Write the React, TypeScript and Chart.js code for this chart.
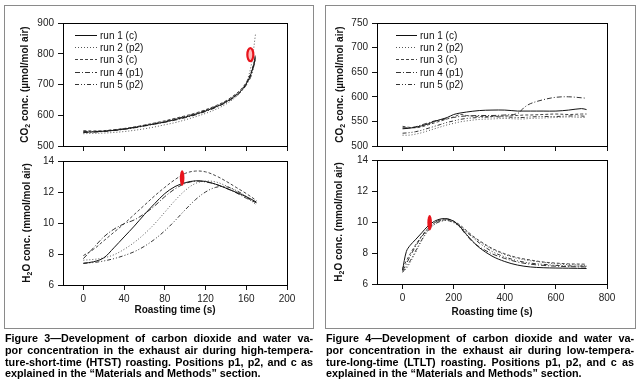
import React, { useEffect, useRef } from 'react';
import { Chart, registerables } from 'chart.js';

Chart.register(...registerables);

const FONT = '"Liberation Sans", Arial, Helvetica, sans-serif';

// ---------- data ----------
const RUN_LABELS = ['run 1 (c)', 'run 2 (p2)', 'run 3 (c)', 'run 4 (p1)', 'run 5 (p2)'];
const X_TITLE = 'Roasting time (s)';
const CO2_TITLE = ['CO', '2', ' conc. (µmol/mol air)'];
const H2O_TITLE = ['H', '2', 'O conc. (mmol/mol air)'];

// Figure 3 (HTST) – CO2
const HTST_CO2_T = [0, 10, 20, 30, 40, 50, 60, 70, 80, 90, 100, 110, 120, 130, 140, 150, 155, 160, 165, 169];
const HTST_CO2_RUN1 = [545, 546, 548, 551, 555, 560, 566, 572, 578, 586, 594, 603, 614, 627, 643, 665, 680, 702, 738, 785];
const HTST_CO2_RUN2 = [540, 541, 542, 544, 547, 551, 556, 562, 569, 576, 585, 595, 606, 619, 636, 660, 677, 705, 765, 862];
const HTST_CO2_RUN3 = [550, 549, 550, 553, 557, 562, 568, 575, 582, 590, 598, 607, 618, 631, 647, 670, 685, 707, 742, 790];
const HTST_CO2_RUN4 = [544, 545, 547, 550, 554, 559, 565, 571, 577, 584, 592, 601, 612, 625, 641, 662, 677, 698, 730, 798];
const HTST_CO2_RUN5 = [547, 547, 549, 552, 556, 561, 567, 573, 580, 588, 596, 605, 616, 629, 645, 667, 682, 703, 735, 778];
const HTST_CO2_X_TICKS = [0, 40, 80, 120, 160, 200];
const HTST_CO2_Y_TICKS = [500, 600, 700, 800, 900];
const HTST_CO2_MARK = [164, 797];

// Figure 3 (HTST) – H2O
const HTST_H2O_T = [0, 10, 20, 30, 40, 50, 60, 70, 80, 90, 100, 110, 120, 130, 140, 150, 160, 170];
const HTST_H2O_RUN1 = [7.4, 7.5, 7.75, 8.4, 9.1, 9.8, 10.55, 11.25, 11.9, 12.35, 12.6, 12.72, 12.68, 12.5, 12.25, 11.98, 11.7, 11.35];
const HTST_H2O_RUN2 = [7.6, 7.65, 7.75, 7.95, 8.3, 8.75, 9.3, 9.95, 10.7, 11.45, 12.1, 12.55, 12.7, 12.65, 12.4, 12.05, 11.7, 11.3];
const HTST_H2O_RUN3 = [7.9, 8.3, 8.85, 9.4, 9.95, 10.55, 11.15, 11.75, 12.3, 12.8, 13.2, 13.35, 13.3, 13.05, 12.7, 12.3, 11.9, 11.45];
const HTST_H2O_RUN4 = [7.7, 8.4, 9.1, 9.6, 9.95, 10.2, 10.6, 11.1, 11.7, 12.2, 12.55, 12.7, 12.65, 12.5, 12.25, 11.95, 11.6, 11.3];
const HTST_H2O_RUN5 = [7.4, 7.45, 7.55, 7.7, 7.9, 8.15, 8.5, 8.95, 9.5, 10.15, 10.85, 11.5, 12.0, 12.3, 12.35, 12.1, 11.7, 11.15];
const HTST_H2O_X_TICKS = [0, 40, 80, 120, 160, 200];
const HTST_H2O_Y_TICKS = [6, 8, 10, 12, 14];
const HTST_H2O_MARK = [97, 12.4, 13.4];

// Figure 4 (LTLT) – CO2
const LTLT_CO2_T = [0, 25, 50, 75, 100, 125, 150, 175, 200, 225, 250, 300, 350, 400, 450, 475, 500, 550, 600, 650, 700, 720];
const LTLT_CO2_RUN1 = [535, 536, 538, 541, 545, 550, 554, 558, 564, 567, 569, 572, 573, 573, 571, 571, 571, 571, 571, 573, 576, 574];
const LTLT_CO2_RUN2 = [522, 522, 524, 527, 531, 535, 539, 543, 546, 549, 551, 554, 555, 556, 555, 555, 556, 557, 558, 559, 558, 558];
const LTLT_CO2_RUN3 = [540, 538, 537, 539, 543, 547, 551, 555, 559, 564, 562, 560, 560, 561, 562, 563, 563, 564, 565, 564, 565, 565];
const LTLT_CO2_RUN4 = [537, 537, 539, 543, 547, 551, 553, 556, 558, 560, 561, 562, 562, 563, 566, 578, 586, 594, 599, 600, 598, 597];
const LTLT_CO2_RUN5 = [526, 527, 529, 532, 536, 540, 544, 548, 551, 554, 556, 558, 559, 559, 558, 558, 559, 560, 560, 561, 561, 560];
const LTLT_CO2_X_TICKS = [0, 200, 400, 600, 800];
const LTLT_CO2_Y_TICKS = [500, 550, 600, 650, 700, 750];

// Figure 4 (LTLT) – H2O
const LTLT_H2O_T = [0, 15, 30, 50, 75, 100, 125, 150, 175, 200, 225, 250, 275, 300, 350, 400, 450, 500, 550, 600, 650, 720];
const LTLT_H2O_RUN1 = [6.9, 8.1, 8.5, 8.85, 9.3, 9.75, 10.05, 10.2, 10.2, 10.05, 9.7, 9.2, 8.75, 8.35, 7.8, 7.45, 7.22, 7.1, 7.05, 7.03, 7.02, 7.0];
const LTLT_H2O_RUN2 = [6.8, 7.0, 7.4, 8.0, 8.8, 9.45, 9.85, 10.05, 10.1, 10.0, 9.75, 9.4, 9.05, 8.75, 8.25, 7.9, 7.65, 7.5, 7.4, 7.3, 7.25, 7.2];
const LTLT_H2O_RUN3 = [7.0, 7.5, 7.95, 8.5, 9.1, 9.6, 9.95, 10.1, 10.15, 10.05, 9.8, 9.45, 9.1, 8.8, 8.3, 7.95, 7.7, 7.55, 7.42, 7.35, 7.3, 7.28];
const LTLT_H2O_RUN4 = [6.85, 7.3, 7.8, 8.4, 9.05, 9.55, 9.95, 10.15, 10.2, 10.05, 9.65, 9.15, 8.7, 8.4, 7.95, 7.65, 7.42, 7.28, 7.2, 7.15, 7.12, 7.1];
const LTLT_H2O_RUN5 = [6.75, 7.1, 7.5, 8.1, 8.85, 9.45, 9.85, 10.05, 10.1, 9.95, 9.7, 9.35, 9.0, 8.65, 8.1, 7.75, 7.5, 7.35, 7.27, 7.2, 7.17, 7.15];
const LTLT_H2O_X_TICKS = [0, 200, 400, 600, 800];
const LTLT_H2O_Y_TICKS = [6, 8, 10, 12, 14];
const LTLT_H2O_MARK = [106, 9.45, 10.45];

const CAPTION_3 = [
  'Figure 3\u2014Development of carbon dioxide and water va-',
  'por concentration in the exhaust air during high-tempera-',
  'ture-short-time (HTST) roasting. Positions p1, p2, and c as',
  'explained in the \u201cMaterials and Methods\u201d section.',
];
const CAPTION_4 = [
  'Figure 4\u2014Development of carbon dioxide and water va-',
  'por concentration in the exhaust air during low-tempera-',
  'ture-long-time (LTLT) roasting. Positions p1, p2, and c as',
  'explained in the \u201cMaterials and Methods\u201d section.',
];

// ---------- styles ----------
const RUN_COLORS = ['#111111', '#555555', '#444444', '#333333', '#333333'];
const RUN_DASH: number[][] = [[], [1, 2], [3, 2], [5, 2, 1, 2], [4, 2, 1, 2, 1, 2]];
const YW = 30;

type Geo = { cx: number; cy: number; cw: number; ch: number; l: number; t: number; r: number; b: number; xh: number };

type Spec = {
  geo: Geo;
  t: number[];
  runs: number[][];
  xMin: number; xMax: number; xTicks: number[];
  yMin: number; yMax: number; yTicks: number[];
  showX: boolean;
  title: string[];
  titleX: number;
  legend?: { x1: number; x2: number; tx: number; y0: number; dy: number };
  mark?: number[];
  ring?: boolean;
};

function yTitlePlugin(parts: string[], px: number, py: number) {
  return {
    id: 'yTitle',
    afterDraw(chart: any) {
      const ctx = chart.ctx as CanvasRenderingContext2D;
      const main = `bold 10px ${FONT}`;
      const sub = `bold 7px ${FONT}`;
      let total = 0;
      const widths = parts.map((p, i) => {
        ctx.font = i === 1 ? sub : main;
        const w = ctx.measureText(p).width;
        total += w;
        return w;
      });
      ctx.save();
      ctx.translate(px, py);
      ctx.rotate(-Math.PI / 2);
      ctx.textBaseline = 'middle';
      ctx.textAlign = 'left';
      ctx.fillStyle = '#111';
      let x = -total / 2;
      parts.forEach((p, i) => {
        ctx.font = i === 1 ? sub : main;
        ctx.fillText(p, x, i === 1 ? 3 : 0);
        x += widths[i];
      });
      ctx.restore();
    },
  };
}

function framePlugin() {
  return {
    id: 'frame',
    afterDatasetsDraw(chart: any) {
      const { left, top, right, bottom } = chart.chartArea;
      const ctx = chart.ctx as CanvasRenderingContext2D;
      ctx.save();
      ctx.strokeStyle = '#000';
      ctx.lineWidth = 1;
      ctx.strokeRect(Math.round(left) + 0.5, Math.round(top) + 0.5, Math.round(right - left), Math.round(bottom - top));
      ctx.restore();
    },
  };
}

function legendPlugin(lg: { x1: number; x2: number; tx: number; y0: number; dy: number }) {
  return {
    id: 'runLegend',
    afterDraw(chart: any) {
      const ctx = chart.ctx as CanvasRenderingContext2D;
      chart.data.datasets.forEach((ds: any, i: number) => {
        const y = Math.round(lg.y0 + i * lg.dy);
        ctx.save();
        ctx.strokeStyle = ds.borderColor;
        ctx.lineWidth = 1;
        ctx.setLineDash(ds.borderDash || []);
        ctx.beginPath();
        ctx.moveTo(lg.x1, y + 0.5);
        ctx.lineTo(lg.x2, y + 0.5);
        ctx.stroke();
        ctx.setLineDash([]);
        ctx.fillStyle = '#111';
        ctx.font = `10px ${FONT}`;
        ctx.textBaseline = 'middle';
        ctx.textAlign = 'left';
        ctx.fillText(ds.label, lg.tx, y + 1);
        ctx.restore();
      });
    },
  };
}

function markPlugin(mark: number[], ring: boolean) {
  return {
    id: 'mark',
    afterDatasetsDraw(chart: any) {
      const xs = chart.scales.x;
      const ys = chart.scales.y;
      const ctx = chart.ctx as CanvasRenderingContext2D;
      const px = xs.getPixelForValue(mark[0]);
      let py: number;
      let ry: number;
      if (mark.length === 2) {
        py = ys.getPixelForValue(mark[1]);
        ry = 6.5;
      } else {
        const a = ys.getPixelForValue(mark[1]);
        const b = ys.getPixelForValue(mark[2]);
        py = (a + b) / 2;
        ry = Math.abs(a - b) / 2;
      }
      ctx.save();
      ctx.beginPath();
      if (ring) {
        ctx.ellipse(px, py, 3, ry, 0, 0, Math.PI * 2);
        ctx.fillStyle = 'rgba(255,140,140,0.6)';
        ctx.fill();
        ctx.strokeStyle = '#e8141c';
        ctx.lineWidth = 2.2;
        ctx.stroke();
      } else {
        ctx.ellipse(px, py, 2.3, ry, 0, 0, Math.PI * 2);
        ctx.fillStyle = '#e8141c';
        ctx.fill();
      }
      ctx.restore();
    },
  };
}

function buildConfig(s: Spec): any {
  const g = s.geo;
  const plugins: any[] = [framePlugin(), yTitlePlugin(s.title, s.titleX - g.cx, (g.t + g.b) / 2 - g.cy)];
  if (s.legend) {
    const lg = s.legend;
    plugins.push(legendPlugin({ x1: lg.x1 - g.cx, x2: lg.x2 - g.cx, tx: lg.tx - g.cx, y0: lg.y0 - g.cy, dy: lg.dy }));
  }
  if (s.mark) plugins.push(markPlugin(s.mark, !!s.ring));
  return {
    type: 'line',
    data: {
      datasets: s.runs.map((ys, i) => ({
        label: RUN_LABELS[i],
        data: s.t.map((t, k) => ({ x: t, y: ys[k] })),
        borderColor: RUN_COLORS[i],
        borderWidth: 1,
        borderDash: RUN_DASH[i],
        pointRadius: 0,
        tension: 0.35,
        fill: false,
      })),
    },
    options: {
      responsive: false,
      animation: false,
      devicePixelRatio: 1,
      layout: {
        padding: {
          left: g.l - g.cx - YW,
          top: g.t - g.cy,
          right: g.cx + g.cw - g.r,
          bottom: g.cy + g.ch - g.b - g.xh,
        },
      },
      scales: {
        x: {
          type: 'linear',
          min: s.xMin,
          max: s.xMax,
          afterBuildTicks: (ax: any) => {
            ax.ticks = s.xTicks.map((v) => ({ value: v }));
          },
          afterFit: (ax: any) => {
            ax.height = g.xh;
          },
          ticks: { display: s.showX, autoSkip: false, maxRotation: 0, padding: 3, color: '#222', font: { size: 10, family: FONT } },
          grid: { drawOnChartArea: false, drawTicks: true, tickLength: 5, tickColor: '#111', tickWidth: 1 },
          border: { display: false },
          title: { display: s.showX, text: X_TITLE, color: '#111', padding: 0, font: { size: 10, weight: 'bold', family: FONT } },
        },
        y: {
          type: 'linear',
          min: s.yMin,
          max: s.yMax,
          afterBuildTicks: (ax: any) => {
            ax.ticks = s.yTicks.map((v) => ({ value: v }));
          },
          afterFit: (ax: any) => {
            ax.width = YW;
          },
          ticks: { autoSkip: false, padding: 4, color: '#222', font: { size: 10, family: FONT } },
          grid: { drawOnChartArea: false, drawTicks: true, tickLength: 5, tickColor: '#111', tickWidth: 1 },
          border: { display: false },
        },
      },
      plugins: { legend: { display: false }, tooltip: { enabled: false } },
    },
    plugins,
  };
}

const SPECS: Spec[] = [
  {
    geo: { cx: 5, cy: 7, cw: 307, ch: 150, l: 63, t: 23, r: 287, b: 146, xh: 5 },
    t: HTST_CO2_T,
    runs: [HTST_CO2_RUN1, HTST_CO2_RUN2, HTST_CO2_RUN3, HTST_CO2_RUN4, HTST_CO2_RUN5],
    xMin: -20, xMax: 200, xTicks: HTST_CO2_X_TICKS,
    yMin: 500, yMax: 900, yTicks: HTST_CO2_Y_TICKS,
    showX: false,
    title: CO2_TITLE, titleX: 25,
    legend: { x1: 75, x2: 97, tx: 100, y0: 35, dy: 12.2 },
    mark: HTST_CO2_MARK, ring: true,
  },
  {
    geo: { cx: 5, cy: 150, cw: 307, ch: 174, l: 63, t: 161, r: 287, b: 285, xh: 31 },
    t: HTST_H2O_T,
    runs: [HTST_H2O_RUN1, HTST_H2O_RUN2, HTST_H2O_RUN3, HTST_H2O_RUN4, HTST_H2O_RUN5],
    xMin: -20, xMax: 200, xTicks: HTST_H2O_X_TICKS,
    yMin: 6, yMax: 14, yTicks: HTST_H2O_Y_TICKS,
    showX: true,
    title: H2O_TITLE, titleX: 27,
    mark: HTST_H2O_MARK,
  },
  {
    geo: { cx: 327, cy: 7, cw: 307, ch: 150, l: 377, t: 23, r: 607, b: 146, xh: 5 },
    t: LTLT_CO2_T,
    runs: [LTLT_CO2_RUN1, LTLT_CO2_RUN2, LTLT_CO2_RUN3, LTLT_CO2_RUN4, LTLT_CO2_RUN5],
    xMin: -100, xMax: 800, xTicks: LTLT_CO2_X_TICKS,
    yMin: 500, yMax: 750, yTicks: LTLT_CO2_Y_TICKS,
    showX: false,
    title: CO2_TITLE, titleX: 340,
    legend: { x1: 396, x2: 417, tx: 420, y0: 35, dy: 12.2 },
  },
  {
    geo: { cx: 327, cy: 150, cw: 307, ch: 174, l: 377, t: 160, r: 607, b: 284, xh: 34 },
    t: LTLT_H2O_T,
    runs: [LTLT_H2O_RUN1, LTLT_H2O_RUN2, LTLT_H2O_RUN3, LTLT_H2O_RUN4, LTLT_H2O_RUN5],
    xMin: -100, xMax: 800, xTicks: LTLT_H2O_X_TICKS,
    yMin: 6, yMax: 14, yTicks: LTLT_H2O_Y_TICKS,
    showX: true,
    title: H2O_TITLE, titleX: 339,
    mark: LTLT_H2O_MARK,
  },
];

function Caption({ lines, left }: { lines: string[]; left: number }) {
  return (
    <div style={{ position: 'absolute', left, top: 333, width: 308, fontFamily: FONT, fontWeight: 'bold', fontSize: '10.8px', lineHeight: '11.8px', color: '#000' }}>
      {lines.map((ln, i) => (
        <div
          key={i}
          style={{
            whiteSpace: 'nowrap',
            textAlign: i < lines.length - 1 ? 'justify' : 'left',
            textAlignLast: i < lines.length - 1 ? 'justify' : 'left',
          } as any}
        >
          {ln}
        </div>
      ))}
    </div>
  );
}

export default function App() {
  const refs = [useRef<HTMLCanvasElement>(null), useRef<HTMLCanvasElement>(null), useRef<HTMLCanvasElement>(null), useRef<HTMLCanvasElement>(null)];

  useEffect(() => {
    const charts = SPECS.map((s, i) => new Chart(refs[i].current as HTMLCanvasElement, buildConfig(s)));
    return () => charts.forEach((c) => c.destroy());
  }, []);

  return (
    <div style={{ position: 'fixed', left: 0, top: 0, width: 640, height: 379, background: '#fff', overflow: 'hidden' }}>
      <div style={{ position: 'absolute', left: 4, top: 5, width: 308, height: 322, border: '1px solid #8a8a8a' }} />
      <div style={{ position: 'absolute', left: 325, top: 5, width: 309, height: 322, border: '1px solid #8a8a8a' }} />
      {SPECS.map((s, i) => (
        <canvas
          key={i}
          ref={refs[i]}
          width={s.geo.cw}
          height={s.geo.ch}
          style={{ position: 'absolute', left: s.geo.cx, top: s.geo.cy, width: s.geo.cw, height: s.geo.ch, display: 'block' }}
        />
      ))}
      <Caption lines={CAPTION_3} left={5} />
      <Caption lines={CAPTION_4} left={326} />
    </div>
  );
}
